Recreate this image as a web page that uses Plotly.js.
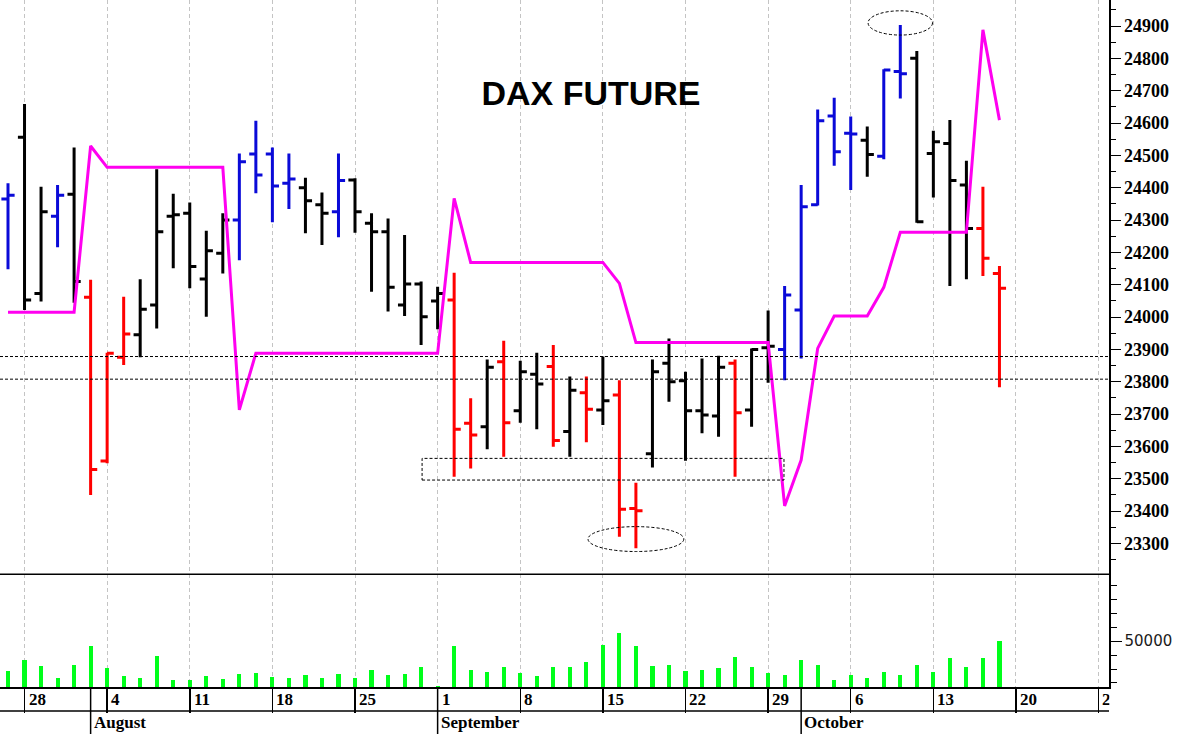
<!DOCTYPE html>
<html>
<head>
<meta charset="utf-8">
<script src="https://cdn.plot.ly/plotly-3.0.1.min.js"></script>
<style>html,body{margin:0;padding:0;background:#fff;}#chart{width:1180px;height:734px;}</style>
</head>
<body>
<div id="chart"></div>
<script>
// ---------- DATA ----------
const dates = [
 '2025-07-25','2025-07-28','2025-07-29','2025-07-30','2025-07-31','2025-08-01',
 '2025-08-04','2025-08-05','2025-08-06','2025-08-07','2025-08-08',
 '2025-08-11','2025-08-12','2025-08-13','2025-08-14','2025-08-15',
 '2025-08-18','2025-08-19','2025-08-20','2025-08-21','2025-08-22',
 '2025-08-25','2025-08-26','2025-08-27','2025-08-28','2025-08-29',
 '2025-09-01','2025-09-02','2025-09-03','2025-09-04','2025-09-05',
 '2025-09-08','2025-09-09','2025-09-10','2025-09-11','2025-09-12',
 '2025-09-15','2025-09-16','2025-09-17','2025-09-18','2025-09-19',
 '2025-09-22','2025-09-23','2025-09-24','2025-09-25','2025-09-26',
 '2025-09-29','2025-09-30','2025-10-01','2025-10-02','2025-10-03',
 '2025-10-06','2025-10-07','2025-10-08','2025-10-09','2025-10-10',
 '2025-10-13','2025-10-14','2025-10-15','2025-10-16','2025-10-17'
];
const axisFutureDays = ['2025-10-20','2025-10-21','2025-10-22','2025-10-23','2025-10-24','2025-10-27','2025-10-28'];

const openP = [24365,24556,24073,24312,24380,24061, 23555,23876,23945,24037,24312, 24321,24118,24197,24300,24504,
 24504,24414,24400,24347,24326, 24424,24290,24264,24037,24102, 24050,24053,23672,23661,23862,
 23710,23823,23847,23646,23766, 23713,23759,23408,23577,23857, 23803,23710,23694,23857,23713,
 23905,23900,24022,24347,24622, 24568,24547,24497,24759,24800, 24506,24537,24408,24274,24135];
const highP = [24414,24659,24403,24408,24524,24115, 23890,24063,24117,24457,24381, 24354,24267,24321,24506,24607,
 24524,24506,24431,24385,24506, 24429,24321,24305,24254,24110, 24094,24137,23749,23869,23927,
 23865,23890,23914,23816,23816, 23878,23805,23488,23869,23934, 23831,23872,23880,23869,23903,
 24020,24096,24408,24642,24678, 24620,24589,24766,24903,24823, 24576,24609,24483,24403,24158];
const lowP = [24148,24022,24048,24216,24044,23450, 23548,23852,23876,23965,24151, 24089,24001,24135,24176,24383,
 24293,24334,24259,24223,24247, 24261,24078,24017,24003,23914, 23962,23506,23532,23591,23568,
 23673,23653,23599,23568,23613, 23666,23321,23285,23535,23738, 23556,23641,23630,23506,23661,
 23797,23805,23872,24345,24468, 24393,24434,24488,24676,24292, 24370,24096,24117,24127,23783];
const closeP = [24377,24053,24326,24377,24110,23529, 23888,23948,24024,24264,24316, 24156,24205,24300,24480,24439,
 24405,24427,24360,24321,24422, 24326,24264,24092,24102,24001, 24073,23653,23635,23845,23673,
 23831,23793,23618,23774,23715, 23741,23406,23401,23831,23800, 23710,23697,23845,23704,23900,
 23910,24068,24341,24607,24511, 24566,24503,24764,24752,24295, 24542,24422,24274,24182,24089];
// bar colour class: B = blue, K = black, R = red
const barClass = ['B','K','K','B','K','R', 'R','R','K','K','K', 'K','K','K','B','B',
 'B','B','K','K','B', 'K','K','K','K','K', 'K','R','R','K','R',
 'K','K','R','K','R', 'K','R','R','K','K', 'K','K','K','R','K',
 'K','B','B','B','B', 'B','K','B','B','K', 'K','K','K','R','R'];
const stopLine = [24015,24015,24015,24015,24015,24529, 24463,24463,24463,24463,24463, 24463,24463,24463,23713,23888,
 23888,23888,23888,23888,23888, 23888,23888,23888,23888,23888, 23888,24367,24169,24169,24169,
 24169,24169,24169,24169,24169, 24169,24104,23921,23921,23921, 23921,23921,23921,23921,23921,
 23921,23416,23558,23903,24003, 24003,24003,24092,24262,24262, 24262,24262,24262,24888,24609];
const volume = [28400,36300,32200,23900,33200,46600, 30400,25000,23200,39700,21900, 21900,25000,22900,26300,27500,
 24100,23900,26000,23200,26300, 23200,29600,26000,26300,31100, 17800,46600,29100,28200,31100,
 27000,25000,31100,31100,35100, 47600,56000,46600,32200,33200, 28400,29100,30400,38300,31100,
 27200,26000,36300,33200,21900, 26000,23900,28200,26000,33200, 28200,37600,31100,37600,49800];

const weekStarts = ['2025-07-28','2025-08-04','2025-08-11','2025-08-18','2025-08-25','2025-09-01','2025-09-08',
 '2025-09-15','2025-09-22','2025-09-29','2025-10-06','2025-10-13','2025-10-20','2025-10-27'];
const monthStarts = ['2025-08-01','2025-09-01','2025-10-01'];
const monthNames = ['August','September','October'];
const priceLevels = [23878, 23808];
const boxRange = {from:'2025-08-29', to:'2025-09-30', low:23496, high:23563};
const lowOval = {center:'2025-09-17', halfDays:2.9, low:23275, high:23352};
const highOval = {center:'2025-10-09', halfDays:1.95, low:24872, high:24947};

// ---------- BUILD ----------
const cats = dates.concat(axisFutureDays);
const idx = d => cats.indexOf(d);
const xMin = -0.484, xMax = 66.63;
const plotW = 1109, plotH = 687;
const pxPer = plotW / (xMax - xMin);

const colors = {B:'#0a0ad8', K:'#000000', R:'#ff0000'};
const traces = [];
['K','B','R'].forEach(c => {
  const sel = dates.map((d,i)=>i).filter(i => barClass[i] === c);
  traces.push({
    type:'ohlc', xaxis:'x', yaxis:'y',
    x: sel.map(i=>dates[i]), open: sel.map(i=>openP[i]), high: sel.map(i=>highP[i]),
    low: sel.map(i=>lowP[i]), close: sel.map(i=>closeP[i]),
    tickwidth:0.4, hoverinfo:'skip',
    increasing:{line:{color:colors[c], width:3}},
    decreasing:{line:{color:colors[c], width:3}},
    showlegend:false
  });
});
traces.push({type:'scatter', mode:'lines', x:dates, y:stopLine, xaxis:'x', yaxis:'y',
  line:{color:'#ff00f0', width:3}, hoverinfo:'skip', showlegend:false});
traces.push({type:'bar', x:dates, y:volume, xaxis:'x', yaxis:'y2', width:0.25,
  marker:{color:'#00ff1a', line:{width:0}}, hoverinfo:'skip', showlegend:false});

const volFrac = (687-574.3)/plotH;
const shapes = [];
priceLevels.forEach(v => shapes.push({type:'line', xref:'paper', yref:'y', x0:0, x1:1, y0:v, y1:v,
  line:{color:'#000', width:1, dash:'3px,2px'}}));
shapes.push({type:'rect', xref:'x', yref:'y', x0:idx(boxRange.from)+0.06, x1:idx(boxRange.to)-0.04,
  y0:boxRange.low, y1:boxRange.high, line:{color:'#000', width:1, dash:'3px,2px'}});
[lowOval, highOval].forEach(o => shapes.push({type:'circle', xref:'x', yref:'y',
  x0:idx(o.center)-o.halfDays, x1:idx(o.center)+o.halfDays, y0:o.low, y1:o.high,
  line:{color:'#000', width:1, dash:'3px,2px'}}));
// panel separator
shapes.push({type:'line', xref:'paper', yref:'paper', x0:0, x1:1, y0:volFrac, y1:volFrac, line:{color:'#000', width:1.5}});
// label row separator
shapes.push({type:'line', xref:'paper', yref:'paper', x0:0, x1:1, y0:-24/plotH, y1:-24/plotH, line:{color:'#000', width:1.5}});
// month separators
monthStarts.forEach(m => shapes.push({type:'line', xref:'x', yref:'paper', x0:idx(m), x1:idx(m),
  y0:0, y1:-47/plotH, line:{color:'#000', width:1.5}}));

const annotations = [];
weekStarts.forEach(w => {
  const i = idx(w);
  const txt = String(parseInt(w.slice(8),10));
  const avail = (xMax - i)*pxPer - 3;
  const a = {xref:'x', yref:'paper', x:i, y:-12/plotH, xanchor:'left', yanchor:'middle', xshift:2,
    text:txt, showarrow:false, align:'left',
    font:{family:'Liberation Serif, Times New Roman, serif', size:17, color:'#000', weight:'bold'}};
  if (avail < 26) { a.width = Math.max(avail, 1); a.borderpad = 0; }
  annotations.push(a);
});
monthStarts.forEach((m,k) => annotations.push({xref:'x', yref:'paper', x:idx(m), y:-36/plotH,
  xanchor:'left', yanchor:'middle', xshift:1, text:monthNames[k], showarrow:false,
  font:{family:'Liberation Serif, Times New Roman, serif', size:17, color:'#000', weight:'bold'}}));

const layout = {
  width:1180, height:734,
  margin:{l:0, r:71, t:0, b:47, pad:0},
  paper_bgcolor:'#fff', plot_bgcolor:'#fff',
  showlegend:false, hovermode:false, bargap:0,
  title:{text:'DAX FUTURE', x:591/1180, xanchor:'center', y:1-93/734, yanchor:'middle',
    font:{family:'Liberation Sans, Arial, sans-serif', size:34, color:'#000', weight:'bold'}},
  xaxis:{type:'category', categoryorder:'array', categoryarray:cats, range:[xMin, xMax],
    anchor:'y2', rangeslider:{visible:false},
    tickmode:'array', tickvals:weekStarts, showticklabels:false,
    ticks:'outside', ticklen:24, tickwidth:1.5, tickcolor:'#000',
    showgrid:true, gridcolor:'#c4c4c4', griddash:'4px,3px', gridwidth:1,
    showline:true, linecolor:'#000', linewidth:1.5, zeroline:false, fixedrange:true},
  yaxis:{domain:[volFrac, 1], range:[23204.6, 24980.4], side:'right', anchor:'x',
    showgrid:false, zeroline:false, showline:true, linecolor:'#000', linewidth:1.5,
    tickmode:'linear', tick0:23300, dtick:100, tickformat:'d', ticks:'outside', ticklen:10, tickwidth:1, tickcolor:'#000',
    minor:{dtick:50, tick0:23250, ticks:'outside', ticklen:5, tickwidth:1, tickcolor:'#000', showgrid:false},
    tickfont:{family:'Liberation Serif, Times New Roman, serif', size:18, color:'#000', weight:'bold'},
    fixedrange:true},
  yaxis2:{domain:[0, volFrac], range:[17100, 98000], side:'right', anchor:'x',
    showgrid:false, zeroline:false, showline:true, linecolor:'#000', linewidth:1.5,
    tickmode:'array', tickvals:[50000], ticktext:['50000'], ticks:'outside', ticklen:11, tickwidth:1, tickcolor:'#000',
    minor:{tickmode:'array', tickvals:[20000,30000,40000,60000,70000,80000,90000], ticks:'outside', ticklen:6, tickwidth:1, tickcolor:'#000'},
    tickfont:{family:'DejaVu Sans, Verdana, sans-serif', size:15, color:'#1a1a1a'},
    fixedrange:true},
  shapes:shapes,
  annotations:annotations
};

Plotly.newPlot('chart', traces, layout, {staticPlot:true, displayModeBar:false});
</script>
</body>
</html>
